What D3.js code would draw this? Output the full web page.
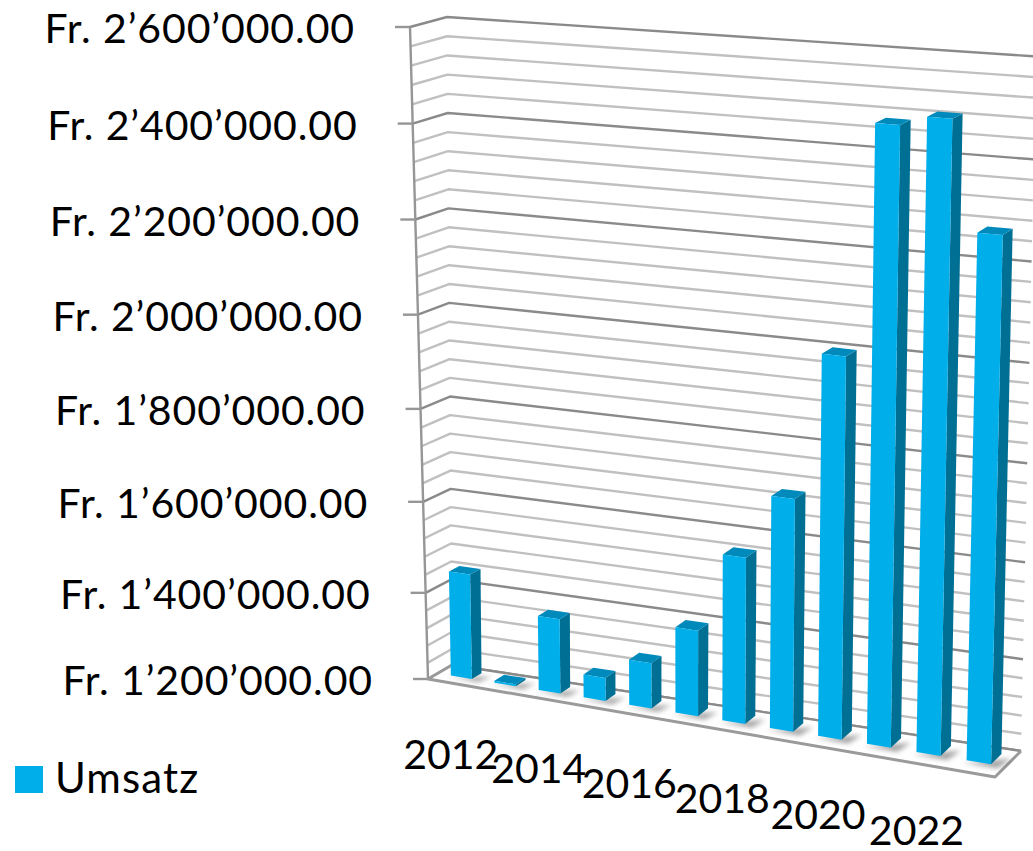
<!DOCTYPE html>
<html>
<head>
<meta charset="utf-8">
<script src="https://cdn.jsdelivr.net/npm/d3@7"></script>
<style>
  html, body { margin: 0; background: #fff; overflow: hidden; }
  text { font-family: Lato, "Open Sans", sans-serif; fill: #000; }
</style>
</head>
<body>
<svg id="chart" width="1033" height="851"></svg>
<script>
// data
const years = d3.range(2012, 2024);
const umsatz = [1440000, 1205000, 1371000, 1255000, 1305000, 1392000,
                1562000, 1697000, 1998000, 2465000, 2485000, 2268000];
const tickValues = [1200000, 1400000, 1600000, 1800000, 2000000, 2200000, 2400000, 2600000];
const gridValues = d3.range(1200000, 2600001, 40000);
const yearLabels = [2012, 2014, 2016, 2018, 2020, 2022];
const seriesName = "Umsatz";

const svg = d3.select("#chart");

// corners of the 3d box
const corners = {
  floorFrontLeft: [428, 679], floorBackLeft: [452, 665],
  floorFrontRight: [995, 777], floorBackRight: [1021, 751],
  topFrontLeft: [410, 27], topBackLeft: [447, 17],
  topFrontRight: [1012, 69], topBackRight: [1036, 56.5]
};

const lerp = (a, b, t) => [a[0] + (b[0] - a[0]) * t, a[1] + (b[1] - a[1]) * t];

function project(u, v, w) {
  const c = corners;
  const floorFront = lerp(c.floorFrontLeft, c.floorFrontRight, u);
  const floorBack = lerp(c.floorBackLeft, c.floorBackRight, u);
  const topFront = lerp(c.topFrontLeft, c.topFrontRight, u);
  const topBack = lerp(c.topBackLeft, c.topBackRight, u);
  return lerp(lerp(floorFront, floorBack, w), lerp(topFront, topBack, w), v);
}

// scales
const vNorm = d3.scaleLinear().domain([1200000, 2600000]).range([0, 1]);
const vWarp = d3.scalePow().exponent(1.04).domain([0, 1]).range([0, 1]);
const vScale = d => vWarp(vNorm(d));
// bars get a bit wider and further apart towards the viewer
const uWarp = u => 0.916 * u + 0.084 * u * u;
const band = d3.scaleBand().domain(years).range([0.0171, 0.985]).paddingInner(0.516).paddingOuter(0.1);
const wFront = 0.4, wBack = 0.8;

const pts = arr => arr.map(p => p.join(",")).join(" ");
const lineOf = d3.line();

// =========================
// gridlines and walls
// =========================
const gridG = svg.append("g").attr("fill", "none").attr("stroke-linejoin", "round");

gridG.selectAll("path")
  .data(gridValues)
  .join("path")
  .attr("d", d => {
    const v = vScale(d);
    return lineOf([project(0, v, 0), project(0, v, 1), project(1, v, 1)]);
  })
  .attr("stroke", d => tickValues.includes(d) ? "#8a8a8a" : "#c0c0c0")
  .attr("stroke-width", 2.4);

// left axis line, ticks
const axisG = svg.append("g");
axisG.append("path")
  .attr("d", lineOf([project(0, 0, 0), project(0, 1, 0)]))
  .attr("stroke", "#969696").attr("stroke-width", 2.4).attr("fill", "none");

const formatFr = d => "Fr. " + d3.format(".2f")(d)
  .replace(/^(\d)(\d{3})(\d{3})/, "$1’$2’$3");

const ticks = axisG.selectAll("g.tick")
  .data(tickValues)
  .join("g")
  .attr("class", "tick")
  .attr("transform", d => `translate(${project(0, vScale(d), 0).join(",")})`);

ticks.append("line")
  .attr("x1", -15).attr("x2", 0)
  .attr("stroke", "#969696").attr("stroke-width", 2.4);

ticks.append("text")
  .attr("x", -55)
  .attr("y", 16)
  .attr("text-anchor", "end")
  .style("font-size", "41px")
  .style("letter-spacing", "0.9px")
  .text(formatFr);

// =========================
// floor
// =========================
const c = corners;
svg.append("polygon")
  .attr("points", pts([c.floorFrontLeft, c.floorFrontRight, c.floorBackRight, c.floorBackLeft]))
  .attr("fill", "#fff");

svg.append("path")
  .attr("d", lineOf([c.floorBackLeft, c.floorBackRight]))
  .attr("stroke", "#8a8a8a").attr("stroke-width", 2.4).attr("fill", "none");

svg.append("path")
  .attr("d", lineOf([c.floorBackLeft, c.floorFrontLeft, c.floorFrontRight, c.floorBackRight]))
  .attr("stroke", "#9a9a9a").attr("stroke-width", 3).attr("fill", "none")
  .attr("stroke-linejoin", "round");

// =========================
// bars
// =========================
const defs = svg.append("defs");
defs.append("filter").attr("id", "bar-shadow")
  .attr("x", "-50%").attr("y", "-50%").attr("width", "200%").attr("height", "200%")
  .append("feGaussianBlur").attr("stdDeviation", 2.5);

const rows = years.map((year, i) => ({ year, value: umsatz[i] }));
const uLeft = d => uWarp(band(d.year));
const uRight = d => uWarp(band(d.year) + band.bandwidth());

// shadow on the floor
svg.append("g").selectAll("polygon")
  .data(rows)
  .join("polygon")
  .attr("points", d => pts([
    project(uLeft(d) - 0.002, 0, wFront - 0.1),
    project(uRight(d) + 0.016, 0, wFront - 0.1),
    project(uRight(d) + 0.022, 0, wBack - 0.1),
    project(uLeft(d) + 0.02, 0, wFront)
  ]))
  .attr("fill", "#555")
  .attr("opacity", 0.55)
  .attr("filter", "url(#bar-shadow)");

const bars = svg.append("g").selectAll("g")
  .data(rows)
  .join("g");

// side face
bars.append("polygon")
  .attr("points", d => {
    const v = vScale(d.value);
    return pts([
      project(uRight(d), 0, wFront), project(uRight(d), v, wFront),
      project(uRight(d), v, wBack), project(uRight(d), 0, wBack)
    ]);
  })
  .attr("fill", "#006f94");

// top face
bars.append("polygon")
  .attr("points", d => {
    const v = vScale(d.value);
    return pts([
      project(uLeft(d), v, wFront), project(uRight(d), v, wFront),
      project(uRight(d), v, wBack), project(uLeft(d), v, wBack)
    ]);
  })
  .attr("fill", "#0089bb");

// front face
bars.append("polygon")
  .attr("points", d => {
    const v = vScale(d.value);
    return pts([
      project(uLeft(d), 0, wFront), project(uRight(d), 0, wFront),
      project(uRight(d), v, wFront), project(uLeft(d), v, wFront)
    ]);
  })
  .attr("fill", "#00aeea");

// =========================
// year labels
// =========================
svg.append("g").selectAll("text")
  .data(yearLabels)
  .join("text")
  .attr("transform", d => {
    const p = project(uWarp(band(d)), 0, wFront);
    return `translate(${p[0]},${p[1] + 93})`;
  })
  .attr("text-anchor", "middle")
  .style("font-size", "41px")
  .text(d => d);

// =========================
// legend
// =========================
const legend = svg.append("g").attr("transform", "translate(15,766)");
legend.append("rect").attr("width", 28).attr("height", 27).attr("fill", "#00aeea");
legend.append("text")
  .attr("x", 40).attr("y", 27)
  .style("font-size", "42px")
  .style("letter-spacing", "1.1px")
  .text(seriesName);
</script>
</body>
</html>
